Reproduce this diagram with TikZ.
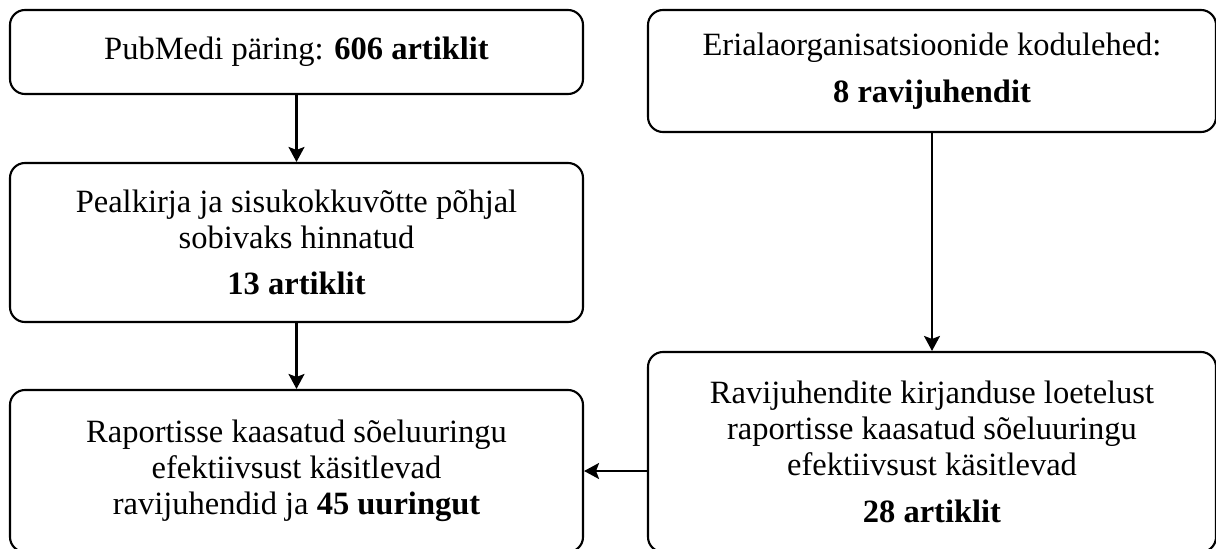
\documentclass[tikz,border=0pt]{standalone}
\usepackage{fontspec}
\setmainfont{Liberation Serif}
\usetikzlibrary{arrows.meta,positioning}

\begin{document}
\begin{tikzpicture}[x=0.02cm,y=-0.02cm]
%\tikzstyle{box} = [draw, rounded corners]
\tikzstyle{box} = [draw, line width=1.2pt, rounded corners=0.3cm, align=center, inner sep=0pt, font=\fontsize{18.5}{20.5}\selectfont]
\tikzstyle{pil} = [line width=1.2pt, -{Stealth[length=0.3cm,width=0.32cm,inset=0.06cm]}]
\useasboundingbox (0,0) rectangle (1216,548);
\node[box, minimum width=573*0.02cm, minimum height=84*0.02cm] (pubmed) at (296.5,52)
    {PubMedi päring: \textbf{606 artiklit}};
\node[box, minimum width=573*0.02cm, minimum height=159*0.02cm] (pealkiri) at (296.5,242.5)
    {Pealkirja ja sisukokkuvõtte põhjal\\ sobivaks hinnatud\\[6pt] \textbf{13 artiklit}};
\node[box, minimum width=573*0.02cm, minimum height=162*0.02cm] (raport) at (296.5,471)
    {Raportisse kaasatud sõeluuringu\\ efektiivsust käsitlevad\\ ravijuhendid ja \textbf{45 uuringut}};
\node[box, minimum width=568*0.02cm, minimum height=122*0.02cm] (eriala) at (932,71)
    {Erialaorganisatsioonide kodulehed:\\[6pt] \textbf{8 ravijuhendit}};
\node[box, minimum width=568*0.02cm, minimum height=200*0.02cm] (kirjandus) at (932,452)
    {Ravijuhendite kirjanduse loetelust\\ raportisse kaasatud sõeluuringu\\ efektiivsust käsitlevad\\[6pt] \textbf{28 artiklit}};
\draw[pil] (pubmed) -- (pealkiri);
\draw[pil] (pealkiri) -- (raport);
\draw[pil] (eriala) -- (kirjandus);
\draw[pil] (kirjandus.west |- raport.east) -- (raport.east);
\end{tikzpicture}
\end{document}
